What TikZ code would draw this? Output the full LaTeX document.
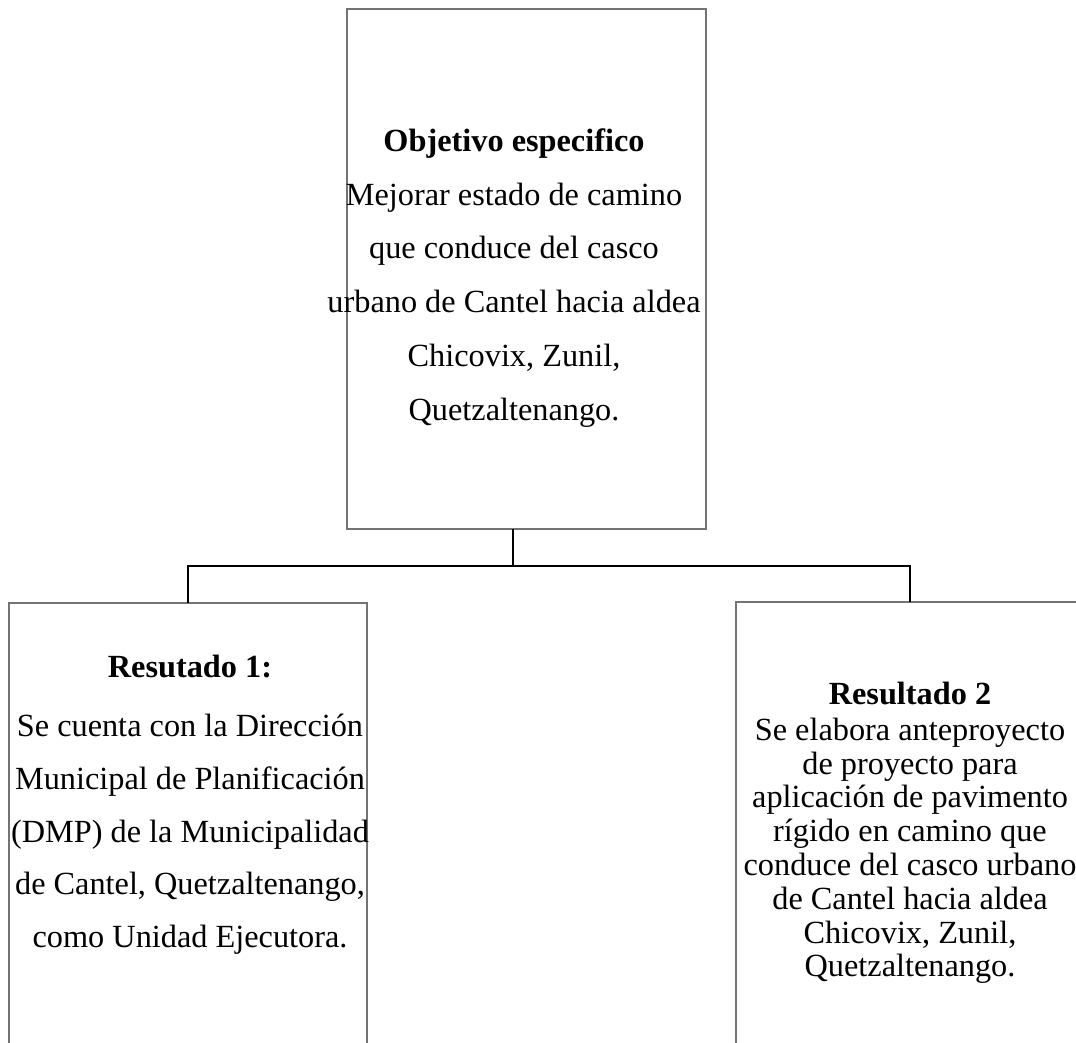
\documentclass[tikz,border=0pt]{standalone}
\usepackage{fontspec}
\setmainfont{Liberation Serif}
\begin{document}
\begin{tikzpicture}[x=1pt,y=-1pt,
  boxstyle/.style={draw=black!55,line width=1.2pt,fill=white,inner sep=0pt,outer sep=0pt},
  txttop/.style={align=center,inner sep=0pt,font=\fontsize{32.3}{53.8}\selectfont},
  txtleft/.style={align=center,inner sep=0pt,font=\fontsize{32.3}{52.8}\selectfont},
  txtsmall/.style={align=center,inner sep=0pt,font=\fontsize{32.3}{33.8}\selectfont},
  conn/.style={draw=black,line width=2.4pt}]
\useasboundingbox (0,0) rectangle (1076,1042);
\clip (0,0) rectangle (1076,1042);
\fill[white] (0,0) rectangle (1076,1042);
% boxes
\node[boxstyle,minimum width=359pt,minimum height=520pt,anchor=north west] (top) at (347,9) {};
\node[boxstyle,minimum width=358pt,minimum height=520pt,anchor=north west] (left) at (9,603) {};
\node[boxstyle,minimum width=400pt,minimum height=520pt,anchor=north west] (right) at (736,602) {};
% connectors
\coordinate (tb) at (513,529);
\coordinate (lb) at (188,603);
\coordinate (rb) at (910,602);
\draw[conn] (tb) -- (513,566) -| (lb);
\draw[conn] (513,566) -| (rb);
% texts
\node[txttop] (toptxt) at (514,278) {\textbf{Objetivo especifico}\\Mejorar estado de camino\\que conduce del casco\\urbano de Cantel hacia aldea\\Chicovix, Zunil,\\Quetzaltenango.};
\node[txtleft] (lefttxt) at (190,805) {\textbf{Resutado 1:}\\[6pt]Se cuenta con la Dirección\\Municipal de Planificación\\(DMP) de la Municipalidad\\de Cantel, Quetzaltenango,\\como Unidad Ejecutora.};
\node[txtsmall] (righttxt) at (910,833) {\textbf{Resultado 2}\\[2pt]Se elabora anteproyecto\\de proyecto para\\aplicación de pavimento\\rígido en camino que\\conduce del casco urbano\\de Cantel hacia aldea\\Chicovix, Zunil,\\Quetzaltenango.};
\end{tikzpicture}
\end{document}
